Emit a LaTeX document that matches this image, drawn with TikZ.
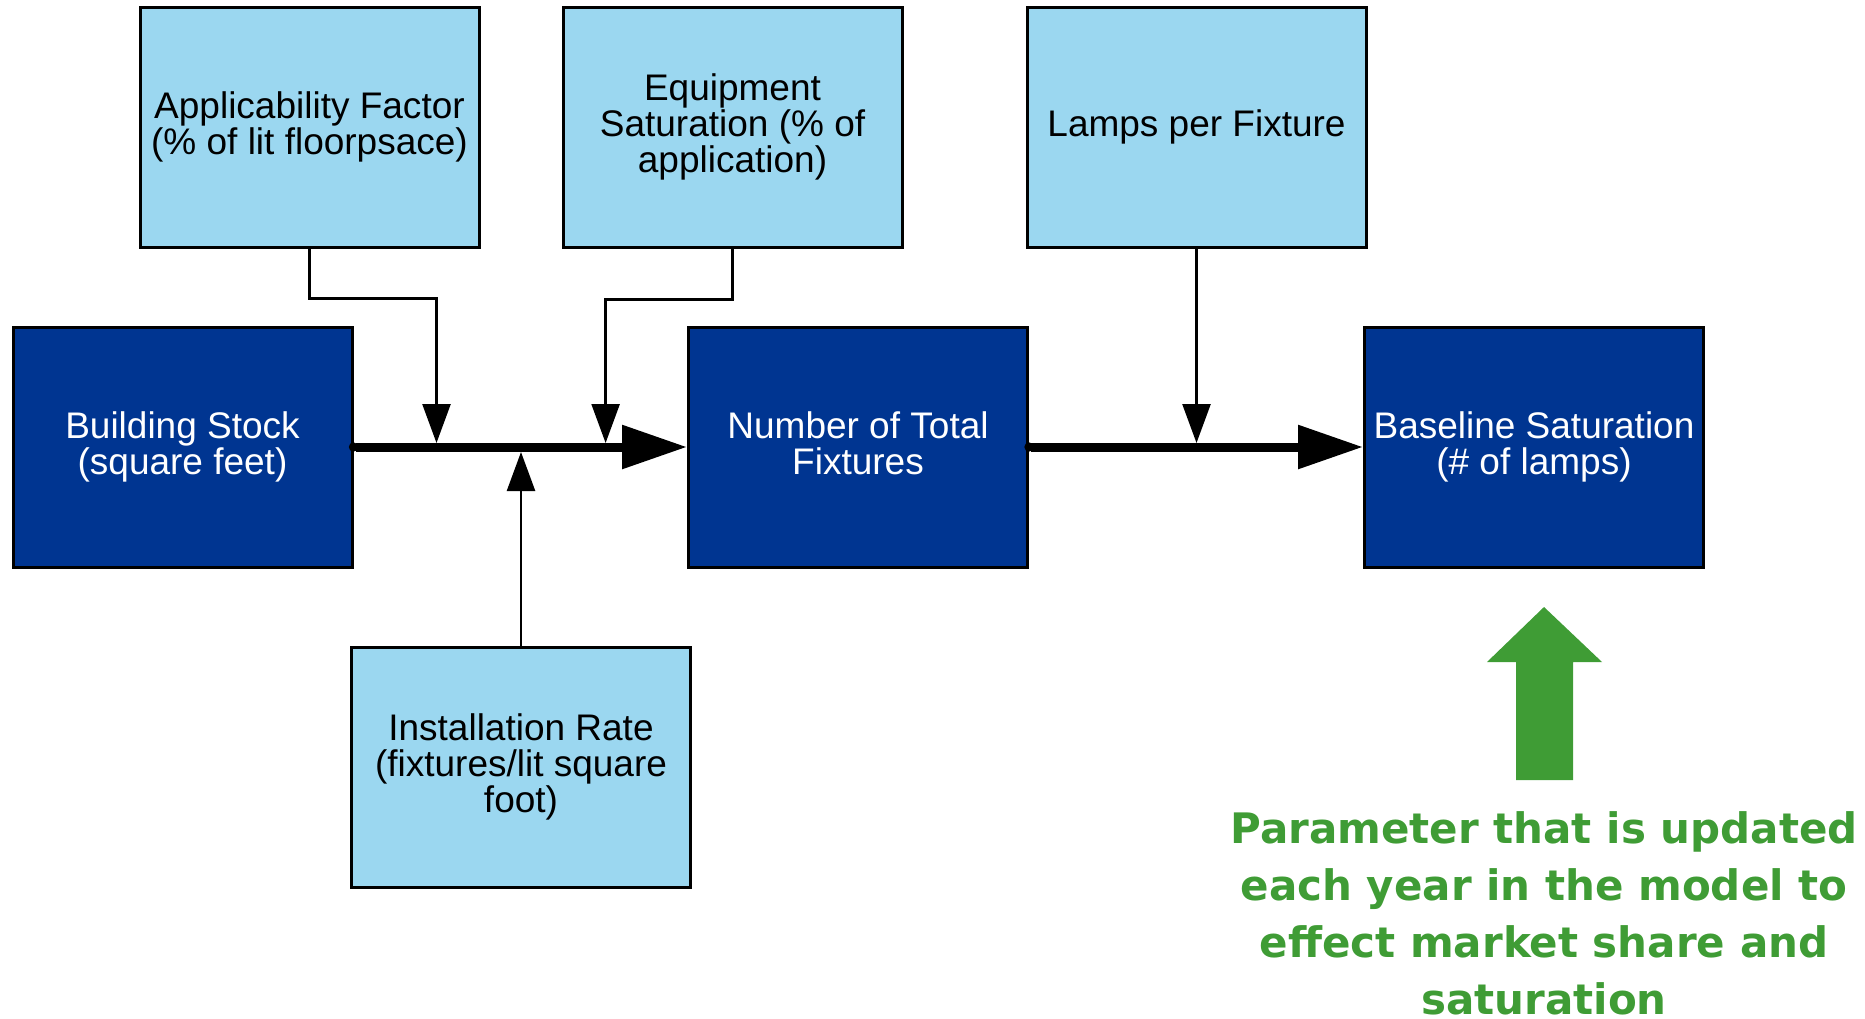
\documentclass[tikz,border=0pt]{standalone}
\usepackage{fontspec}
\setmainfont{Liberation Sans}
\newfontfamily\greenfont{DejaVu Sans}
\usetikzlibrary{arrows.meta}
\definecolor{lightbox}{HTML}{9BD7F0}
\definecolor{darkbox}{HTML}{003591}
\definecolor{greenish}{HTML}{3F9C35}
\tikzset{
  boxbase/.style={draw=black, line width=3pt, minimum width=339pt, minimum height=240pt,
    inner sep=0pt, align=center, font=\fontsize{37}{36}\selectfont},
  lightnode/.style={boxbase, fill=lightbox, text=black},
  darknode/.style={boxbase, fill=darkbox, text=white},
  thinarrow/.style={draw=black, line width=2.5pt, -{Triangle[length=39pt,width=28pt]}},
  thickarrow/.style={draw=black, line width=9pt, {Circle[length=9pt]}-{Triangle[length=65pt,width=42pt]}, shorten <=-4.5pt},
}
\begin{document}
\begin{tikzpicture}[x=1pt,y=-1pt]
\useasboundingbox (0,0) rectangle (1865,1018);
\node[lightnode] (app) at (309.5,127) {Applicability Factor\\(\% of lit floorpsace)};
\node[lightnode] (equip) at (732.5,127) {Equipment\\Saturation (\% of\\application)};
\node[lightnode] (lamps) at (1196.5,127) {Lamps per Fixture};
\node[darknode] (bldg) at (182.5,447) {Building Stock\\(square feet)};
\node[darknode] (num) at (858,447) {Number of Total\\Fixtures\vphantom{(}};
\node[darknode] (base) at (1534,447) {Baseline Saturation\\(\# of lamps)};
\node[lightnode] (inst) at (521,767) {Installation Rate\\(fixtures/lit square\\foot)};

\coordinate (j1) at (436.5,443);
\coordinate (j2) at (605.6,443);
\coordinate (j3) at (1196.5,443);
\coordinate (j4) at (521,452);

\draw[thickarrow] (bldg.east) -- (num.west);
\draw[thickarrow] (num.east) -- (base.west);

\draw[thinarrow] (app.south) -- ++(0,50) -| (j1);
\draw[thinarrow] (equip.south) -- ++(0,51) -| (j2);
\draw[thinarrow] (lamps.south) -- (j3);
\draw[thinarrow] (inst.north) -- (j4);

\fill[greenish] (1516,780) -- (1516,662) -- (1487,662) -- (1544,607) -- (1602,662) -- (1573,662) -- (1573,780) -- cycle;
\node[text=greenish, align=center, font=\greenfont\bfseries\fontsize{42}{57}\selectfont] (note) at (1544,913)
  {Parameter that is updated\\each year in the model to\\effect market share and\\saturation};
\end{tikzpicture}
\end{document}
